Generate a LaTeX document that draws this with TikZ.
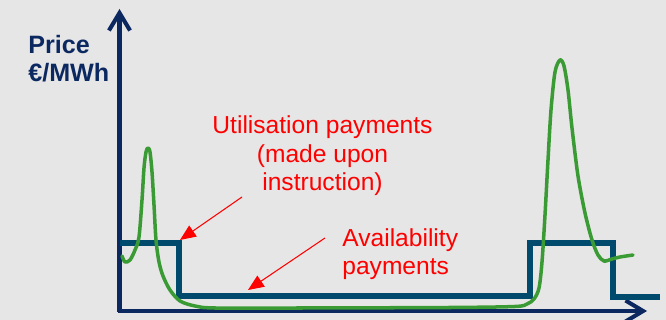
\documentclass[tikz,border=0pt]{standalone}
\usepackage{fontspec}
\setmainfont{Liberation Sans}
\usetikzlibrary{arrows.meta,positioning}
\definecolor{axisblue}{RGB}{12,40,96}
\definecolor{stepblue}{RGB}{0,74,110}
\definecolor{pricegreen}{RGB}{58,155,53}
\definecolor{bggrey}{RGB}{230,230,230}
\tikzset{
  % arrow
	cstaxis/.style    ={-{Straight Barb[length=10pt,width=12pt]}, line width=2.3pt, axisblue}, % axis
	cstra/.style      ={-{Triangle[length=9pt,width=7.5pt]}, line width=0.6pt, red},
  % curve
	cststep/.style    ={line width=3.2pt, stepblue}, % availability
	cstcurve/.style   ={line width=2pt, pricegreen, line join=round, line cap=round}, % price
  % node
	cstnote/.style    ={red, inner sep=0pt, font=\fontsize{14}{16.5}\selectfont},
	cstlabel/.style   ={axisblue, inner sep=0pt, align=left, font=\bfseries\fontsize{14.3}{16}\selectfont}
}
\begin{document}
\begin{tikzpicture}[x=0.02cm,y=-0.02cm]
				\fill[bggrey] (0,0) rectangle (666,320);
				\useasboundingbox (0,0) rectangle (666,320);
				\coordinate (O) at (119.5,311);
				\coordinate (Y) at (119.5,9);
				\coordinate (X) at (647,311);
				\draw[cstaxis] (O|-0,312)--(Y);
				\draw[cstaxis] (118,311)--(X);
				\node[cstlabel,anchor=base west] (price) at (28,82) {Price\\€/MWh};
				% availability and price
				\draw[cststep] (O|-0,243)--(179,243)--(179,296)--(530,296)--(530,243)--(613,243)--(613,297)--(660,297);
				\draw[cstcurve] plot[smooth,tension=0.5] coordinates {(122,256) (125,262) (130,260) (135,250) (139,237)
					(142,200) (144,168) (146,152) (148,148) (150,152) (152,172) (154,205) (156,240) (159,262)
					(163,276) (170,290) (180,301) (195,306) (215,308) (300,308) (450,307.5) (515,306.5) (527,304)
					(534,299) (539,288) (542,262) (545,215) (548,160) (551,110) (555,72) (560,60) (564,66) (568,90)
					(572,128) (578,176) (585,213) (592,240) (598,255) (604,261) (612,259) (620,257) (633,255)};
				% notes
				\node[cstnote,align=center,anchor=base] (util) at (322.5,191) {Utilisation payments\\(made upon\\instruction)};
				\node[cstnote,align=left,anchor=base west] (avail) at (342,275) {Availability\\payments};
				\coordinate (utilfrom) at (242,197);
				\coordinate (utiltip) at (180,240);
				\coordinate (availfrom) at (325,238);
				\coordinate (availtip) at (248,290);
				\draw[cstra] (utilfrom)--(utiltip);
				\draw[cstra] (availfrom)--(availtip);
			\end{tikzpicture}
\end{document}
